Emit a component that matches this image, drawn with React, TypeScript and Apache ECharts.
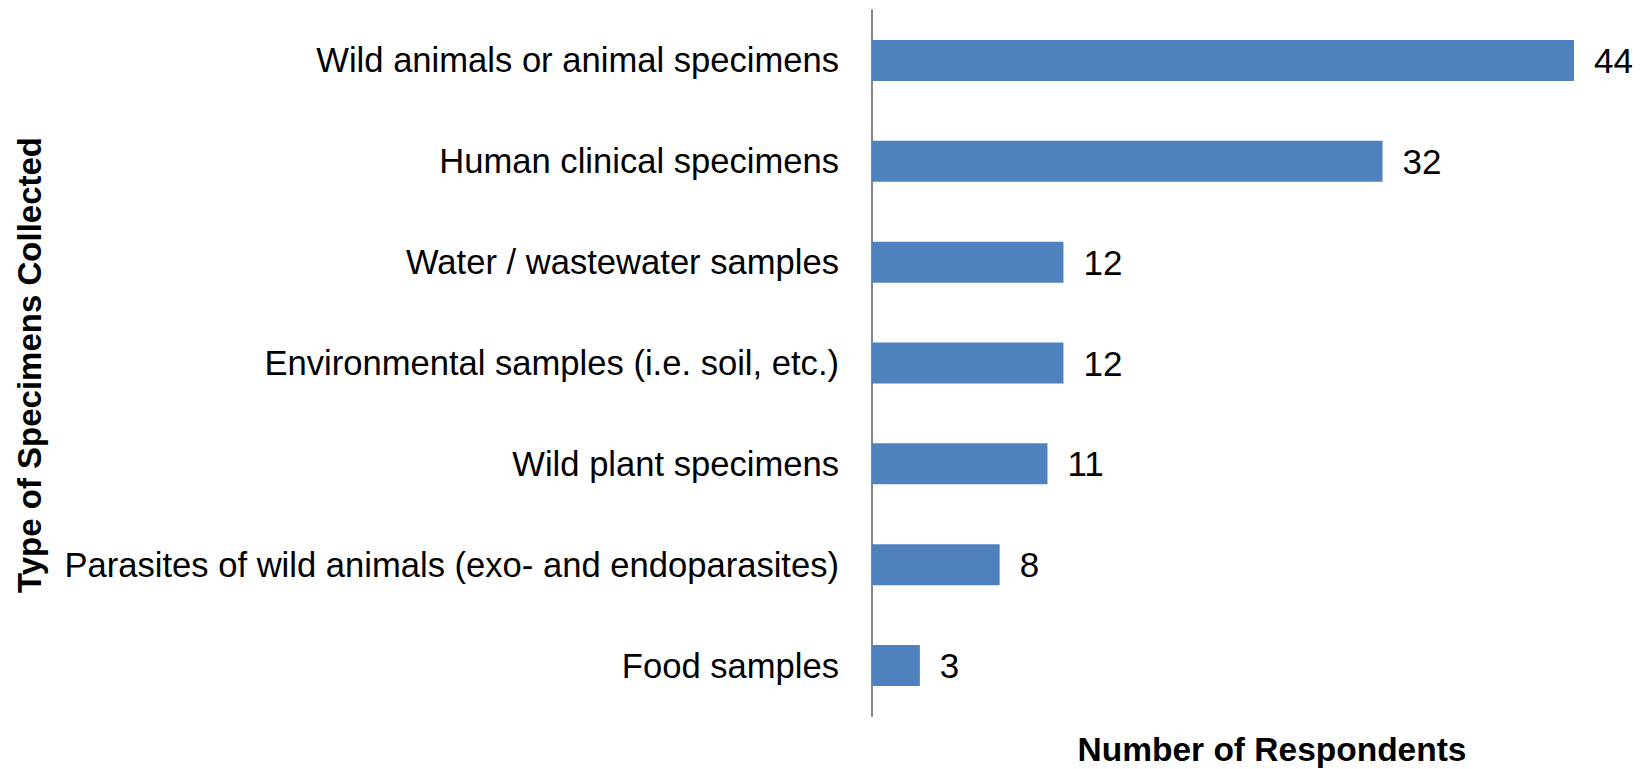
import React, { useEffect, useRef } from "react";
import * as echarts from "echarts";

const categories = [
  "Wild animals or animal specimens",
  "Human clinical specimens",
  "Water / wastewater samples",
  "Environmental samples (i.e. soil, etc.)",
  "Wild plant specimens",
  "Parasites of wild animals (exo- and endoparasites)",
  "Food samples",
];
const respondents = [44, 32, 12, 12, 11, 8, 3];
const yTitle = "Type of Specimens Collected";
const xTitle = "Number of Respondents";

const FONT = "'Liberation Sans', Arial, sans-serif";

export default function App() {
  const ref = useRef<HTMLDivElement>(null);
  useEffect(() => {
    if (!ref.current) return;
    const chart = echarts.init(ref.current, undefined, { renderer: "svg" });
    chart.setOption({
      animation: false,
      backgroundColor: "#ffffff",
      grid: { left: 872, top: 10, width: 702, height: 706, containLabel: false },
      xAxis: {
        type: "value",
        min: 0,
        max: 44,
        show: false,
        splitLine: { show: false },
      },
      yAxis: {
        type: "category",
        data: categories,
        inverse: true,
        axisTick: { show: false },
        axisLine: { show: true, lineStyle: { color: "#868686", width: 2 } },
        axisLabel: {
          margin: 33,
          fontSize: 34.6,
          color: "#000000",
          fontFamily: FONT,
        },
      },
      series: [
        {
          type: "bar",
          data: respondents,
          barWidth: 41,
          itemStyle: { color: "#4F81BD" },
          label: {
            show: true,
            position: "right",
            distance: 20,
            fontSize: 35,
            color: "#000000",
            fontFamily: FONT,
          },
        },
      ],
      graphic: [
        {
          type: "text",
          x: 29,
          y: 365,
          rotation: Math.PI / 2,
          style: {
            text: yTitle,
            font: `bold 33px ${FONT}`,
            fill: "#000000",
            textAlign: "center",
            textVerticalAlign: "middle",
          },
        },
        {
          type: "text",
          x: 1272,
          y: 749,
          style: {
            text: xTitle,
            font: `bold 33.5px ${FONT}`,
            fill: "#000000",
            textAlign: "center",
            textVerticalAlign: "middle",
          },
        },
      ],
    });
    return () => chart.dispose();
  }, []);
  return (
    <div
      ref={ref}
      style={{ position: "absolute", left: 0, top: 0, width: 1652, height: 769 }}
    />
  );
}
